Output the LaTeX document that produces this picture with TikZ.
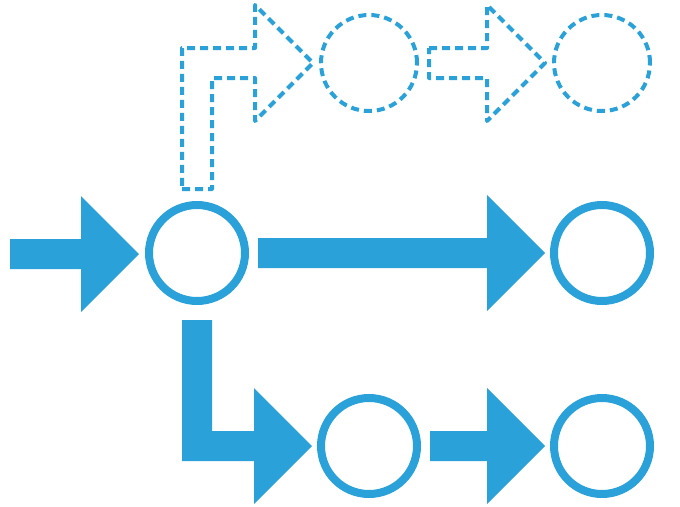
\documentclass[tikz,border=0pt]{standalone}
\usepackage{xcolor}
\usepackage{tikz}
\usetikzlibrary{calc}
\definecolor{flowblue}{RGB}{42,161,216}

\tikzset{
  ring/.style={circle, draw=flowblue, line width=8pt, minimum size=96pt, inner sep=0pt},
  ghostring/.style={circle, draw=flowblue, line width=4pt,
    dash pattern=on 8pt off 5pt, minimum size=96pt, inner sep=0pt},
  ghost/.style={draw=flowblue, line width=4pt, dash pattern=on 8pt off 5pt,
    line join=round},
  %% straight block arrow, tip at the target
  fatarrow/.style={to path={let \p1=(\tikztostart), \p2=(\tikztotarget) in
    (\x1,\y1+15pt) -- (\x2-58pt,\y1+15pt) -- (\x2-58pt,\y1+58pt) -- (\x2,\y1)
    -- (\x2-58pt,\y1-58pt) -- (\x2-58pt,\y1-15pt) -- (\x1,\y1-15pt) -- cycle}},
  %% L-shaped block arrows (down then right / up then right)
  bentdown/.style={to path={let \p1=(\tikztostart), \p2=(\tikztotarget) in
    (\x1-15pt,\y1) -- (\x1+15pt,\y1) -- (\x1+15pt,\y2+15pt) -- (\x2-58pt,\y2+15pt)
    -- (\x2-58pt,\y2+58pt) -- (\x2,\y2) -- (\x2-58pt,\y2-58pt) -- (\x2-58pt,\y2-15pt)
    -- (\x1-15pt,\y2-15pt) -- cycle}},
  bentup/.style={to path={let \p1=(\tikztostart), \p2=(\tikztotarget) in
    (\x1-15pt,\y1) -- (\x1+15pt,\y1) -- (\x1+15pt,\y2-15pt) -- (\x2-58pt,\y2-15pt)
    -- (\x2-58pt,\y2-58pt) -- (\x2,\y2) -- (\x2-58pt,\y2+58pt) -- (\x2-58pt,\y2+15pt)
    -- (\x1-15pt,\y2+15pt) -- cycle}}
}

\begin{document}
\begin{tikzpicture}[x=1pt, y=-1pt]
  \useasboundingbox (0,0) rectangle (680,506);

  %% states
  \node[ring] (c1) at (197,253) {};
  \node[ring] (c2) at (602,253) {};
  \node[ring] (c3) at (369,446) {};
  \node[ring] (c4) at (602,446) {};
  \node[ghostring] (c5) at (369,63) {};
  \node[ghostring] (c6) at (602,63) {};
  \coordinate (src) at (10,254);

  %% solid flow
  \fill[flowblue, fatarrow] (src) to ([xshift=-6pt]c1.west);
  \fill[flowblue, fatarrow] ([xshift=9pt]c1.east) to ([xshift=-5pt]c2.west);
  \fill[flowblue, bentdown] ([yshift=-15pt]c1.south) to ([xshift=-5pt]c3.west);
  \fill[flowblue, fatarrow] ([xshift=9pt]c3.east) to ([xshift=-5pt]c4.west);

  %% dashed flow
  \draw[ghost, bentup] ([yshift=12pt]c1.north) to ([xshift=-6pt]c5.west);
  \draw[ghost, fatarrow] ([xshift=10pt]c5.east) to ([xshift=-7pt]c6.west);

\end{tikzpicture}
\end{document}
